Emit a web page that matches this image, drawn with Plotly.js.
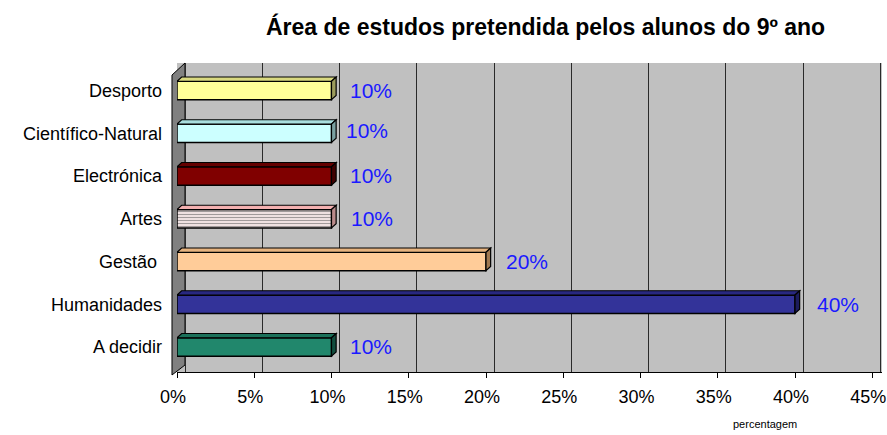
<!DOCTYPE html>
<html>
<head>
<meta charset="utf-8">
<script src="https://cdn.plot.ly/plotly-3.0.1.min.js"></script>
<style>html,body{margin:0;padding:0;background:#fff;}#chart{width:887px;height:435px;}</style>
</head>
<body>
<div id="chart"></div>
<script>
const categories = ["A decidir", "Humanidades", "Gestão ", "Artes", "Electrónica", "Científico-Natural", "Desporto"];
const values = [10, 40, 20, 10, 10, 10, 10];
const labels = ["10%", "40%", "20%", "10%", "10%", "10%", "10%"];
const barColors = ["#21876c", "#333399", "#ffcc99", "#fff0f0", "#800000", "#ccffff", "#ffff99"];
const topColors = ["#1b715a", "#282880", "#e6b37f", "#f3b0b0", "#650000", "#a9dede", "#d9d980"];
const sideColors = ["#124d3e", "#1c1c5c", "#a07850", "#b98a8a", "#400000", "#7aa0a0", "#9c9c5c"];
const patternShapes = ["", "", "", "-", "", "", ""];
const patternFg = ["#21876c", "#333399", "#ffcc99", "#ff3a3a", "#800000", "#ccffff", "#ffff99"];
const tickVals = [0, 5, 10, 15, 20, 25, 30, 35, 40, 45];
const tickText = ["0%", "5%", "10%", "15%", "20%", "25%", "30%", "35%", "40%", "45%"];
const labelShift = [16, 20, 18, 17, 16, 12, 16];

const FONT = "Liberation Sans, Arial, sans-serif";
const W = 0.43;      // bar thickness (category units)
const DX = 0.3;      // 3D depth along x (data units)
const DY = 0.1;      // 3D depth along y (category units)

const trace = {
  type: "bar",
  orientation: "h",
  y: categories,
  x: values,
  width: W,
  marker: {
    color: barColors,
    line: {color: "#000000", width: 1.5},
    pattern: {shape: patternShapes, fgcolor: patternFg, size: 3, solidity: 0.45, fillmode: "overlay"}
  },
  hoverinfo: "skip"
};

// invisible trace to activate the back-wall grid axis
const gridTrace = {type: "scatter", x: [0], y: [categories[0]], xaxis: "x2", yaxis: "y", mode: "markers",
  marker: {opacity: 0}, hoverinfo: "skip"};

const shapes = [
  {type: "path", xref: "paper", yref: "paper", layer: "below",
   path: "M -0.0071 -0.0097 L -0.0071 0.961 L 0.01135 1 L 0.01135 0.0227 Z",
   fillcolor: "#808080", line: {color: "#000", width: 1}}
];
values.forEach((v, i) => {
  const h = W / 2;
  shapes.push({type: "path", xref: "x", yref: "y", layer: "above",
    path: `M 0 ${i + h} L ${v} ${i + h} L ${v + DX} ${i + h + DY} L ${DX} ${i + h + DY} Z`,
    fillcolor: topColors[i], line: {color: "#000", width: 1.2}});
  shapes.push({type: "path", xref: "x", yref: "y", layer: "above",
    path: `M ${v} ${i - h} L ${v + DX} ${i - h + DY} L ${v + DX} ${i + h + DY} L ${v} ${i + h} Z`,
    fillcolor: sideColors[i], line: {color: "#000", width: 1.2}});
});

const annotations = categories.map((c, i) => ({
  x: values[i], y: c, xref: "x", yref: "y",
  text: labels[i], showarrow: false, xanchor: "left", yanchor: "middle",
  xshift: labelShift[i], yshift: (i === 5 ? 3 : 0),
  font: {family: FONT, size: 21, color: "#1a1aff"}
}));
annotations.push({
  xref: "paper", yref: "paper", x: 0.834, y: -0.168, text: "percentagem",
  showarrow: false, xanchor: "center", yanchor: "middle",
  font: {family: FONT, size: 11, color: "#000"}
});

const layout = {
  width: 887, height: 435,
  margin: {l: 177, r: 5, t: 63, b: 63, pad: 0},
  paper_bgcolor: "#ffffff",
  plot_bgcolor: "#c0c0c0",
  showlegend: false,
  title: {
    text: "<b>Área de estudos pretendida pelos alunos do 9º ano</b>",
    font: {family: FONT, size: 23, color: "#000"},
    x: 0.615, xanchor: "center", y: 0.938, yanchor: "middle"
  },
  xaxis: {
    range: [0, 45.63],
    tickvals: tickVals, ticktext: tickText,
    showgrid: false, zeroline: false,
    ticks: "outside", ticklen: 5, tickcolor: "#000",
    ticklabelstandoff: 3, ticklabelshift: -4, ticklabeloverflow: "allow",
    tickfont: {family: FONT, size: 18, color: "#000"},
    showline: true, linecolor: "#000", linewidth: 1,
    fixedrange: true
  },
  xaxis2: {
    overlaying: "x", side: "bottom",
    range: [-0.518, 45.11],
    tickvals: tickVals, showticklabels: false, ticks: "",
    showgrid: true, gridcolor: "#2a2a2a", gridwidth: 1,
    zeroline: false, showline: false, fixedrange: true
  },
  yaxis: {
    range: [-0.585, 6.643],
    showgrid: false, zeroline: false,
    ticks: "", ticklabelstandoff: 14,
    tickfont: {family: FONT, size: 18, color: "#000"},
    showline: false,
    fixedrange: true
  },
  shapes: shapes,
  annotations: annotations
};

Plotly.newPlot("chart", [gridTrace, trace], layout, {staticPlot: true, displayModeBar: false});
</script>
</body>
</html>
